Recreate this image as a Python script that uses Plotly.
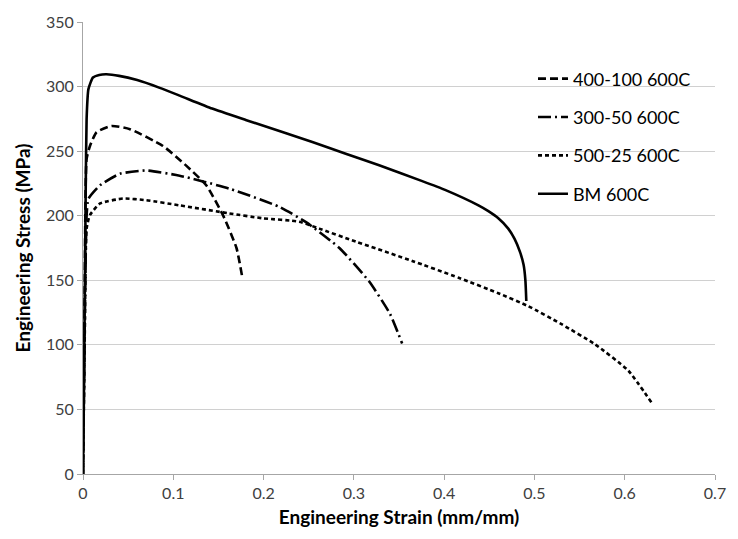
import plotly.graph_objects as go

# ---- data ----
bm_x = [0.0, 0.001, 0.002, 0.003, 0.004, 0.006, 0.011, 0.018, 0.026, 0.040, 0.060, 0.085, 0.107, 0.143, 0.181,
        0.254, 0.291, 0.328, 0.375, 0.401, 0.438, 0.449, 0.460, 0.471, 0.478, 0.484, 0.488, 0.490, 0.491]
bm_y = [0, 60, 140, 220, 275, 298, 307, 309, 309.5, 308.3, 305, 299, 293, 283, 274,
        257, 248, 239, 227, 220, 208, 203.5, 198, 190, 182, 172, 162, 150, 134]

s400_x = [0.0, 0.002, 0.004, 0.0077, 0.015, 0.0317, 0.052, 0.0886, 0.114, 0.1365, 0.155, 0.170, 0.176]
s400_y = [0, 150, 244, 254, 264.6, 269.5, 267, 254, 239, 223.6, 200.5, 175, 154]

s300_x = [0.0, 0.002, 0.004, 0.006, 0.019, 0.041, 0.070, 0.107, 0.162, 0.217, 0.247, 0.284, 0.317, 0.340, 0.3535]
s300_y = [0, 120, 200, 213, 223.6, 232.5, 235, 231, 221, 207, 195, 175, 149, 124, 101]

s500_x = [0.0, 0.002, 0.004, 0.0077, 0.019, 0.0445, 0.070, 0.107, 0.162, 0.199, 0.2395, 0.2616, 0.302,
          0.3646, 0.416, 0.460, 0.493, 0.530, 0.567, 0.604, 0.630]
s500_y = [0, 110, 190, 200.5, 209.5, 213.3, 212, 208, 201.8, 198, 195.4, 190, 180,
          165, 152, 140, 130, 116, 100.5, 80, 55]

series = [
    ("400-100 600C", s400_x, s400_y, "8px,4px"),
    ("300-50 600C", s300_x, s300_y, "13px,4px,2px,4px"),
    ("500-25 600C", s500_x, s500_y, "4px,3px"),
    ("BM 600C", bm_x, bm_y, "solid"),
]

fig = go.Figure()
for i, (name, xs, ys, dash) in enumerate(series):
    fig.add_trace(go.Scatter(
        x=xs, y=ys, mode="lines", name=name, legendgroup=f"g{i}",
        line=dict(color="black", width=2.6, dash=dash, shape="spline", smoothing=0.5),
    ))

FONT = "Lato"
fig.update_layout(
    width=738, height=539,
    margin=dict(l=83, r=20, t=19, b=65),
    paper_bgcolor="white", plot_bgcolor="white",
    font=dict(family=FONT, color="#404040"),
    showlegend=True,
    legend=dict(x=0.712, y=0.915, xanchor="left", yanchor="top",
                font=dict(family=FONT, size=18, color="black"),
                bgcolor="rgba(0,0,0,0)", traceorder="grouped", tracegroupgap=12,
                itemwidth=30),
    xaxis=dict(range=[0, 0.7], dtick=0.1,
               showgrid=False, zeroline=False,
               showline=True, linecolor="#a6a6a6", linewidth=1,
               ticks="outside", ticklen=5, tickcolor="#a6a6a6",
               tickfont=dict(family=FONT, size=16, color="#404040"),
               title=dict(text="<b>Engineering Strain (mm/mm)</b>",
                          font=dict(family=FONT, size=19, color="black"), standoff=9)),
    yaxis=dict(range=[0, 350], dtick=50,
               showgrid=True, gridcolor="#d0d0d0", gridwidth=1, zeroline=False,
               showline=True, linecolor="#a6a6a6", linewidth=1,
               ticks="outside", ticklen=5, tickcolor="#a6a6a6",
               tickfont=dict(family=FONT, size=16, color="#404040"),
               title=dict(text="<b>Engineering Stress (MPa)</b>",
                          font=dict(family=FONT, size=19, color="black"), standoff=10)),
)

fig.write_html("out.html")
